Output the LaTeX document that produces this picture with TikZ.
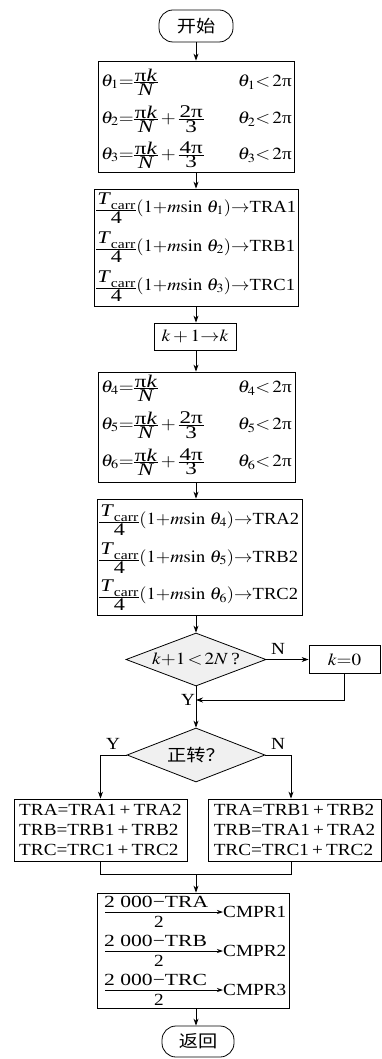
\documentclass[tikz,border=0pt]{standalone}
\usepackage{amsmath}
\usepackage{mathptmx}
\usepackage{fontspec}
\setmainfont{Liberation Serif}
\newfontfamily\cjk{Noto Sans CJK SC}
\usetikzlibrary{shapes.geometric,arrows.meta}
\newcommand{\sx}[1]{\scalebox{1.13}[1]{#1}}
\newcommand{\sxn}[1]{\scalebox{1.09}[1]{#1}}
\newcommand{\sxw}[1]{\scalebox{1.27}[1]{#1}}
\newcommand{\fs}{\fontsize{17}{20}\selectfont}
\newcommand{\cf}[2]{\vcenter{\offinterlineskip\halign{\hfil\kern1pt\scalebox{1.2}[1.05]{##}\kern1pt\hfil\cr #1\cr\noalign{\kern0.9pt\hrule height 0.6pt\kern0.9pt}#2\cr}}}
\newcommand{\tpi}{\text{π}}
\newcommand{\ra}{\mathord{\rightarrow}}
\newcommand{\pk}{\cf{π\textit{k}}{\textit{N}}}
\newcommand{\tc}{\cf{\textit{T}\raisebox{-0.28em}{\fontsize{12}{12}\selectfont carr}}{4}}
\begin{document}
\begin{tikzpicture}[x=1pt,y=-1pt,
  box/.style={draw, line width=0.8pt, inner sep=0pt},
  term/.style={draw, line width=0.8pt, rounded corners=14pt, inner sep=0pt, font=\cjk\fs},
  dia/.style={draw, diamond, aspect=2.6, fill=gray!12, line width=0.8pt, inner sep=0pt},
  txt/.style={inner sep=0pt, font=\fs},
  arr/.style={line width=0.8pt, -{Stealth[length=7pt,width=5pt]}},
  sarr/.style={line width=0.7pt, -{Stealth[length=6pt,width=4pt]}},
  ln/.style={line width=0.8pt}]
\useasboundingbox (0,0) rectangle (382,1059);
\coordinate (col) at (196,0);
\coordinate (rj) at (291,0);

% start
\node[term, minimum width=74, minimum height=32] (start) at (196,26) {\sx{开始}};

% box 1
\node[box, minimum width=196, minimum height=111] (b1) at (196,116.5) {};
\node[txt, anchor=west] (t11) at (101,82) {\sx{$\theta_1{=}\pk$}};
\node[txt, anchor=east] (c11) at (292,82) {\sx{$\theta_1{<}\,2\tpi$}};
\node[txt, anchor=west] (t12) at (101,119) {\sx{$\theta_2{=}\pk+\cf{2π}{3}$}};
\node[txt, anchor=east] (c12) at (292,119) {\sx{$\theta_2{<}\,2\tpi$}};
\node[txt, anchor=west] (t13) at (101,155) {\sx{$\theta_3{=}\pk+\cf{4π}{3}$}};
\node[txt, anchor=east] (c13) at (292,155) {\sx{$\theta_3{<}\,2\tpi$}};

% box 2
\node[box, minimum width=204, minimum height=117] (b2) at (196,247.5) {};
\node[txt, anchor=west] (t21) at (96,208) {\sxn{$\tc(1{+}m\mathrm{sin}\ \theta_1)\ra$TRA1}};
\node[txt, anchor=west] (t22) at (96,247) {\sxn{$\tc(1{+}m\mathrm{sin}\ \theta_2)\ra$TRB1}};
\node[txt, anchor=west] (t23) at (96,286) {\sxn{$\tc(1{+}m\mathrm{sin}\ \theta_3)\ra$TRC1}};

% k box
\node[box, minimum width=82, minimum height=27, font=\fs] (kb) at (195,336.5) {\sx{$k+1\ra k$}};

% box 3
\node[box, minimum width=197, minimum height=110] (b3) at (196.5,427) {};
\node[txt, anchor=west] (t31) at (101,388) {\sx{$\theta_4{=}\pk$}};
\node[txt, anchor=east] (c31) at (292,388) {\sx{$\theta_4{<}\,2\tpi$}};
\node[txt, anchor=west] (t32) at (101,425) {\sx{$\theta_5{=}\pk+\cf{2π}{3}$}};
\node[txt, anchor=east] (c32) at (292,425) {\sx{$\theta_5{<}\,2\tpi$}};
\node[txt, anchor=west] (t33) at (101,462) {\sx{$\theta_6{=}\pk+\cf{4π}{3}$}};
\node[txt, anchor=east] (c33) at (292,462) {\sx{$\theta_6{<}\,2\tpi$}};

% box 4
\node[box, minimum width=205, minimum height=116] (b4) at (199.5,557) {};
\node[txt, anchor=west] (t41) at (99,520) {\sxn{$\tc(1{+}m\mathrm{sin}\ \theta_4)\ra$TRA2}};
\node[txt, anchor=west] (t42) at (99,558) {\sxn{$\tc(1{+}m\mathrm{sin}\ \theta_5)\ra$TRB2}};
\node[txt, anchor=west] (t43) at (99,595) {\sxn{$\tc(1{+}m\mathrm{sin}\ \theta_6)\ra$TRC2}};

% decision 1
\node[dia, minimum width=140, minimum height=53, font=\fs] (d1) at (196,659.5) {\sx{$k{+}1\,{<}\,2N$\,?}};
\node[box, minimum width=71, minimum height=28, font=\fs] (k0) at (344.5,659.5) {\sx{$k{=}0$}};
\node[txt] (n1) at (278,649) {\sx{N}};
\node[txt] (y1) at (188,700) {\sx{Y}};
\coordinate (mrg) at (196,700);

% decision 2
\node[dia, minimum width=138, minimum height=54, font=\cjk\fs] (d2) at (196,755) {\sx{正转？}};
\node[txt] (y2) at (113,744) {\sx{Y}};
\node[txt] (n2) at (278,744) {\sx{N}};

% branch boxes
\node[box, minimum width=173, minimum height=62, align=left, font=\fs] (L) at (100.5,830)
  {\sx{TRA=TRA1\,+\,TRA2}\\\sx{TRB=TRB1\,+\,TRB2}\\\sx{TRC=TRC1\,+\,TRC2}};
\node[box, minimum width=173, minimum height=62, align=left, font=\fs] (R) at (294.5,830)
  {\sx{TRA=TRB1\,+\,TRB2}\\\sx{TRB=TRA1\,+\,TRA2}\\\sx{TRC=TRC1\,+\,TRC2}};
\coordinate (jn) at (196,874);

% box 6
\node[box, minimum width=192, minimum height=115] (b6) at (193,950.5) {};
\node[txt, anchor=base west] (n61) at (104,907) {\sxw{2 000−TRA}};
\coordinate (s61) at (105,912);
\node[txt, anchor=west] (m61) at (223,912) {\sx{CMPR1}};
\node[txt, anchor=north] (d61) at (159,916) {\sx{2}};
\node[txt, anchor=base west] (n62) at (104,946) {\sxw{2 000−TRB}};
\coordinate (s62) at (105,951);
\node[txt, anchor=west] (m62) at (223,951) {\sx{CMPR2}};
\node[txt, anchor=north] (d62) at (159,955) {\sx{2}};
\node[txt, anchor=base west] (n63) at (104,985) {\sxw{2 000−TRC}};
\coordinate (s63) at (105,990);
\node[txt, anchor=west] (m63) at (223,990) {\sx{CMPR3}};
\node[txt, anchor=north] (d63) at (159,994) {\sx{2}};
\draw[sarr] (s61) -- (s61 -| m61.west);
\draw[sarr] (s62) -- (s62 -| m62.west);
\draw[sarr] (s63) -- (s63 -| m63.west);

% end
\node[term, minimum width=72, minimum height=31] (end) at (198,1041.5) {\sx{返回}};

% connectors
\draw[arr] (start.south -| col) -- (b1.north -| col);
\draw[arr] (b1.south -| col) -- (b2.north -| col);
\draw[arr] (b2.south -| col) -- (kb.north -| col);
\draw[arr] (kb.south -| col) -- (b3.north -| col);
\draw[arr] (b3.south -| col) -- (b4.north -| col);
\draw[arr] (b4.south -| col) -- (d1.north);
\draw[arr] (d1.east) -- (d1.east -| k0.west);
\draw[arr] (k0.south) |- (mrg);
\draw[arr] (d1.south) -- (d2.north);
\draw[arr] (d2.west) -| (L.north);
\draw[arr] (d2.east) -| (R.north -| rj);
\draw[ln] (L.south) -- (L.south |- jn) -- (jn -| rj) -- (R.south -| rj);
\draw[arr] (jn) -- (b6.north -| col);
\draw[arr] (b6.south -| col) -- (end.north -| col);
\end{tikzpicture}
\end{document}
